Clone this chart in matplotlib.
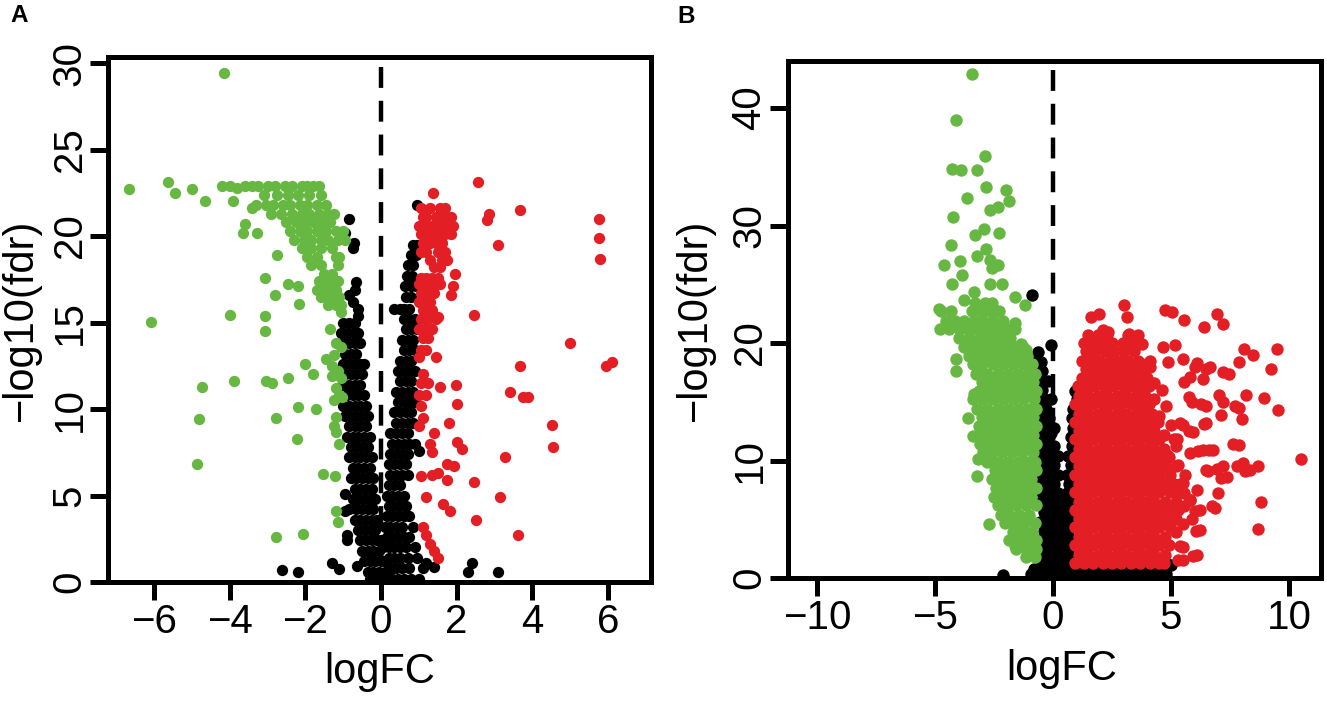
import matplotlib.pyplot as plt

plt.rcParams['font.family'] = ['Liberation Sans', 'DejaVu Sans']

GREEN = '#67B843'
RED = '#E41E25'
BLACK = '#000000'

# ---------------- panel A data (logFC, -log10 fdr) ----------------
green_a_pts = [
    (-6.67, 22.7), (-5.63, 23.1), (-5.44, 22.5), (-4.99, 22.7), (-4.65, 22.0), (-4.15, 29.4),
    (-4.2, 22.9), (-4.0, 22.9), (-3.8, 22.8), (-3.6, 22.9), (-3.4, 22.9), (-3.92, 22.0),
    (-3.42, 21.6), (-3.59, 20.7), (-3.64, 20.2), (-3.28, 20.2), (-2.75, 18.9), (-3.08, 17.6),
    (-2.47, 17.2), (-2.19, 17.1), (-2.80, 16.6), (-2.16, 16.1), (-4.0, 15.45), (-6.09, 15.06),
    (-3.06, 15.4), (-3.08, 14.5), (-2.02, 12.6), (-1.79, 12.0), (-2.47, 11.8), (-3.89, 11.6),
    (-3.03, 11.6), (-2.88, 11.5), (-4.73, 11.3), (-2.19, 10.1), (-1.72, 10.0), (-4.82, 9.43),
    (-2.77, 9.5), (-2.21, 8.26), (-4.88, 6.83), (-1.54, 6.23), (-1.23, 6.13), (-1.18, 4.1),
    (-1.15, 3.45), (-2.77, 2.6), (-2.07, 2.8),
    (-1.35, 14.6), (-1.2, 13.8), (-1.05, 13.6), (-1.25, 13.1), (-1.45, 12.9), (-1.3, 12.5),
    (-1.15, 12.2), (-1.3, 11.9), (-1.05, 11.8), (-1.2, 11.2), (-1.1, 10.8), (-1.25, 10.5),
    (-1.03, 10.7), (-1.19, 9.54), (-1.25, 9.0), (-1.19, 8.7), (-1.11, 8.0),
]
green_a_rows = [
    (22.9, [-3.25, -3.0, -2.8, -2.55, -2.35, -2.1, -1.95, -1.8, -1.65]),
    (22.4, [-3.1, -2.75, -2.45, -2.2, -1.9, -1.6]),
    (21.8, [-3.3, -3.05, -2.85, -2.6, -2.4, -2.15, -1.95, -1.7, -1.45]),
    (21.3, [-2.9, -2.65, -2.35, -2.1, -1.9, -1.65, -1.4, -1.25]),
    (20.8, [-2.5, -2.25, -2.0, -1.8, -1.55, -1.35]),
    (20.3, [-2.4, -2.15, -1.95, -1.7, -1.45, -1.2, -1.0]),
    (19.8, [-2.3, -2.05, -1.85, -1.6, -1.4, -1.15, -0.95]),
    (19.3, [-2.1, -1.85, -1.6, -1.3]),
    (18.8, [-1.95, -1.7, -1.2, -1.1]),
    (18.3, [-1.85, -1.6, -1.15]),
    (17.8, [-1.5, -1.3]),
    (17.4, [-1.65, -1.45, -1.3, -1.15]),
    (16.9, [-1.7, -1.5, -1.35, -1.2]),
    (16.5, [-1.6, -1.45, -1.3, -1.1]),
    (16.0, [-1.4, -1.2, -1.05]),
    (15.6, [-1.05]),
]

red_a_pts = [
    (2.56, 23.1), (1.38, 22.5), (2.86, 21.3), (2.80, 20.9), (3.67, 21.5), (3.08, 19.5),
    (5.77, 21.0), (5.77, 19.9), (5.8, 18.7), (1.96, 17.8), (1.9, 17.1), (1.85, 16.6),
    (2.47, 15.45), (1.51, 15.3), (5.01, 13.8), (5.94, 12.5), (6.11, 12.7), (3.67, 12.5),
    (3.42, 11.0), (3.76, 10.7), (3.89, 10.7), (1.98, 11.4), (1.57, 11.3), (2.02, 10.3),
    (4.51, 9.1), (4.56, 7.8), (3.28, 7.2), (2.02, 8.1), (2.13, 7.7), (1.79, 9.2),
    (1.74, 6.8), (1.94, 6.7), (2.47, 5.8), (1.74, 5.9), (1.35, 6.2), (1.06, 6.1),
    (1.51, 6.3), (1.4, 8.6), (1.3, 8.0), (1.35, 7.5), (3.14, 4.9), (1.2, 4.9),
    (1.63, 4.5), (1.83, 4.1), (2.52, 3.6), (3.62, 2.7), (1.12, 3.2), (1.2, 2.7),
    (1.29, 2.2), (1.4, 1.8), (1.51, 1.4),
]
red_a_rows = [
    (21.6, [1.05, 1.3, 1.55, 1.7]),
    (21.1, [1.1, 1.2, 1.45, 1.6, 1.75, 1.85]),
    (20.6, [1.0, 1.15, 1.35, 1.5, 1.65, 1.8, 1.9]),
    (20.1, [1.05, 1.25, 1.4, 1.55, 1.7, 1.85]),
    (19.6, [1.1, 1.3, 1.45, 1.6]),
    (19.1, [1.05, 1.2, 1.5, 1.7]),
    (18.6, [1.3, 1.6, 1.75]),
    (18.2, [1.4, 1.55]),
    (17.6, [1.05, 1.2, 1.35, 1.5]),
    (17.2, [1.0, 1.15, 1.3, 1.45, 1.55]),
    (16.7, [1.05, 1.25, 1.4]),
    (16.2, [1.0, 1.15, 1.3]),
    (15.7, [1.1, 1.2, 1.35]),
    (15.2, [1.05, 1.25, 1.45]),
    (14.6, [1.0, 1.15, 1.35]),
    (14.1, [1.1, 1.25]),
    (13.4, [1.05, 1.2]),
    (13.0, [1.0, 1.45]),
    (12.0, [1.1]),
    (11.5, [1.05, 1.25]),
    (10.8, [1.0, 1.2]),
    (10.2, [1.05]),
    (9.5, [1.1]),
    (9.0, [1.0]),
]

black_a_pts = [
    (-0.84, 21.0), (-0.95, 20.2), (-0.71, 19.6), (-0.75, 19.3), (-0.67, 17.35), (-0.7, 16.9),
    (-0.86, 16.6), (-0.62, 15.8), (-0.75, 16.2), (-0.6, 15.4), (0.95, 21.8),
    (1.18, 1.1), (1.4, 0.85), (2.41, 1.1), (2.3, 0.6), (3.08, 0.6), (-2.63, 0.68),
    (-2.19, 0.6), (-1.29, 1.1), (-1.12, 0.78), (-0.64, 0.93), (-0.95, 5.1), (-0.95, 4.1),
    (-0.9, 2.7), (1.0, 7.6),
]
black_a_rows = [
    (19.5, [0.85, 0.95]), (18.9, [0.78, 0.92]), (18.3, [0.7, 0.85]), (17.7, [0.68, 0.82]),
    (17.1, [0.64, 0.8, 0.92]), (16.5, [0.65, 0.78]),
    (15.8, [0.35, 0.5, 0.62, 0.75]),
    (15.0, [-1.0, -0.85, -0.7]),
    (15.2, [0.6, 0.75, 0.9]),
    (14.4, [-1.05, -0.9, -0.75, -0.6]),
    (14.6, [0.65, 0.8, 0.95]),
    (13.8, [-1.0, -0.85, -0.7, -0.55]),
    (14.0, [0.55, 0.7, 0.85]),
    (13.2, [-0.95, -0.8, -0.65]),
    (13.4, [0.6, 0.75, 0.9]),
    (12.6, [-1.0, -0.85, -0.7, -0.55, -0.45]),
    (12.8, [0.5, 0.65, 0.8]),
    (12.0, [-0.95, -0.8, -0.65, -0.5]),
    (12.2, [0.45, 0.6, 0.75, 0.9]),
    (11.4, [-1.0, -0.85, -0.7, -0.55]),
    (11.6, [0.5, 0.65, 0.8]),
    (10.8, [-0.9, -0.75, -0.6, -0.45]),
    (11.0, [0.4, 0.55, 0.7, 0.85]),
    (10.2, [-1.0, -0.85, -0.7, -0.55, -0.4]),
    (10.4, [0.45, 0.6, 0.75, 0.9]),
    (9.6, [-0.95, -0.8, -0.65, -0.5, -0.35]),
    (9.8, [0.35, 0.5, 0.65, 0.8]),
    (9.0, [-0.85, -0.7, -0.55, -0.4]),
    (9.2, [0.4, 0.55, 0.7, 0.85]),
    (8.4, [-0.9, -0.75, -0.6, -0.45, -0.3]),
    (8.6, [0.25, 0.4, 0.55, 0.7]),
    (7.8, [-0.8, -0.65, -0.5, -0.35]),
    (8.0, [0.3, 0.45, 0.6, 0.75, 0.9]),
    (7.2, [-0.85, -0.7, -0.55, -0.4, -0.25]),
    (7.4, [0.25, 0.4, 0.55, 0.7]),
    (6.6, [-0.75, -0.6, -0.45, -0.3]),
    (6.8, [0.2, 0.35, 0.5, 0.65]),
    (6.0, [-0.8, -0.65, -0.5, -0.35, -0.2]),
    (6.2, [0.25, 0.4, 0.55, 0.7]),
    (5.4, [-0.7, -0.55, -0.4, -0.25]),
    (5.6, [0.2, 0.35, 0.5]),
    (4.8, [-0.75, -0.6, -0.45, -0.3, -0.15]),
    (5.0, [0.15, 0.3, 0.45, 0.6]),
    (4.2, [-0.85, -0.65, -0.5, -0.35, -0.2]),
    (4.4, [0.2, 0.35, 0.5, 0.65]),
    (3.6, [-0.7, -0.55, -0.4, -0.25, -0.1]),
    (3.8, [0.15, 0.3, 0.45, 0.6, 0.75]),
    (3.0, [-0.6, -0.45, -0.3, -0.15]),
    (3.2, [0.1, 0.25, 0.4, 0.55, 0.85]),
    (2.4, [-0.9, -0.55, -0.4, -0.25, -0.1, 0.0]),
    (2.6, [0.15, 0.3, 0.45, 0.6, 0.75]),
    (1.8, [-0.5, -0.35, -0.2, -0.05]),
    (2.0, [0.05, 0.2, 0.35, 0.5, 0.65, 0.9]),
    (1.2, [-0.45, -0.3, -0.15, 0.0, 0.1]),
    (1.4, [0.2, 0.35, 0.5, 0.7, 0.95]),
    (0.6, [-0.35, -0.2, -0.05, 0.1, 0.2]),
    (0.8, [0.25, 0.4, 0.55, 0.75, 1.1]),
    (0.2, [-0.3, -0.15, 0.0, 0.15, 0.3, 0.45, 0.6, 0.8, 1.0]),
]

# ---------------- panel B data ----------------
green_b_pts = [
    (-3.42, 42.9), (-4.1, 39.0), (-2.89, 35.9), (-4.28, 34.8), (-3.89, 34.7), (-3.24, 34.7),
    (-2.85, 33.3), (-1.99, 33.0), (-1.86, 32.1), (-3.66, 32.3), (-2.67, 31.3), (-2.31, 31.6),
    (-4.23, 30.7), (-2.94, 29.7), (-3.3, 29.2), (-2.28, 29.4), (-4.32, 28.3), (-2.85, 28.0),
    (-3.24, 27.4), (-3.92, 27.0), (-4.61, 26.6), (-2.67, 27.1), (-2.58, 26.4), (-2.31, 26.6),
    (-3.84, 25.8), (-4.28, 25.0), (-2.67, 25.0), (-2.17, 25.0), (-3.35, 24.3), (-1.63, 23.9),
    (-1.2, 23.2), (-4.82, 22.9), (-3.75, 23.7), (-1.59, 21.7), (-4.1, 18.6), (-4.1, 17.6),
    (-3.03, 17.3), (-3.35, 15.7), (-2.71, 10.2), (-3.17, 10.1), (-3.24, 8.7), (-2.71, 4.6),
    (-1.59, 2.7), (-1.35, 19.9), (-1.15, 19.4), (-3.6, 13.6), (-3.4, 12.1),
]
green_b_rows = [
    (1.8, [-1.15, -0.75]),
    (2.5, [-1.55, -1.15, -0.72]),
    (3.2, [-1.85, -1.45, -1.05, -0.72]),
    (3.9, [-1.7, -1.3, -0.9]),
    (4.7, [-2.05, -1.65, -1.22, -0.75]),
    (5.4, [-2.2, -1.85, -1.45, -1.02]),
    (6.2, [-2.35, -1.95, -1.55, -1.15, -0.72]),
    (6.9, [-2.5, -2.15, -1.75, -1.35, -0.92]),
    (7.7, [-2.4, -2.0, -1.6, -1.2, -0.72]),
    (8.4, [-2.6, -2.2, -1.8, -1.38, -0.94]),
    (9.2, [-2.45, -2.05, -1.62, -1.2, -0.72]),
    (9.9, [-2.8, -2.35, -1.92, -1.5, -1.08, -0.75]),
    (10.7, [-2.95, -2.6, -2.15, -1.72, -1.3, -0.85]),
    (11.4, [-3.1, -2.75, -2.35, -1.92, -1.5, -1.05, -0.72]),
    (12.2, [-2.95, -2.55, -2.12, -1.7, -1.28, -0.85]),
    (12.9, [-3.15, -2.75, -2.32, -1.9, -1.48, -1.05, -0.72]),
    (13.7, [-3.0, -2.55, -2.12, -1.7, -1.25, -0.83]),
    (14.4, [-3.2, -2.78, -2.35, -1.9, -1.48, -1.05, -0.72]),
    (15.2, [-3.4, -2.95, -2.55, -2.12, -1.7, -1.25, -0.8]),
    (15.9, [-3.15, -2.75, -2.32, -1.9, -1.48, -1.05, -0.72]),
    (16.7, [-3.0, -2.55, -2.12, -1.7, -1.28, -0.85]),
    (17.4, [-3.25, -2.78, -2.35, -1.92, -1.48, -1.05, -0.75]),
    (18.2, [-3.4, -3.0, -2.55, -2.12, -1.7, -1.25, -0.9]),
    (18.9, [-3.55, -3.15, -2.72, -2.3, -1.88, -1.45, -1.1]),
    (19.7, [-3.75, -3.3, -2.9, -2.48, -2.05, -1.62, -1.25]),
    (20.4, [-4.0, -3.55, -3.1, -2.7, -2.25, -1.8]),
    (21.2, [-4.8, -4.4, -4.0, -3.6, -3.2, -2.8, -2.4, -2.0, -1.6]),
    (21.9, [-4.55, -4.15, -3.75, -3.35, -2.95, -2.55, -2.1]),
    (22.7, [-4.75, -4.3, -3.45, -3.05, -2.65, -2.3]),
    (23.4, [-3.3, -2.9, -2.6]),
]

red_b_pts = [
    (3.01, 23.2), (1.95, 22.5), (1.6, 22.2), (3.15, 22.2), (4.73, 22.8), (5.04, 22.6),
    (5.57, 22.0), (6.38, 21.4), (6.97, 22.5), (7.19, 21.6), (2.13, 21.1), (2.35, 20.9),
    (3.24, 20.8), (3.78, 19.9), (4.68, 19.7), (5.18, 19.8), (8.08, 19.5), (8.48, 19.0),
    (9.48, 19.5), (4.86, 18.4), (7.9, 18.4), (9.25, 17.8), (7.19, 17.5), (7.46, 17.4),
    (6.02, 18.0), (6.47, 17.8), (5.57, 16.7), (5.75, 15.4), (6.29, 14.8), (7.04, 15.6),
    (7.19, 15.0), (8.17, 15.6), (7.72, 14.6), (8.94, 15.3), (9.55, 14.3), (7.99, 13.5),
    (6.38, 13.1), (7.1, 13.9), (5.39, 13.2), (5.75, 12.5), (5.13, 11.8), (6.15, 10.8),
    (6.61, 10.9), (7.63, 11.4), (10.5, 10.1), (7.81, 9.5), (8.14, 9.1), (8.71, 9.5),
    (6.56, 9.1), (6.97, 9.3), (7.1, 8.5), (5.39, 8.0), (7.0, 7.2), (8.8, 6.5),
    (6.74, 6.1), (5.57, 6.1), (6.02, 5.7), (6.08, 4.0), (8.71, 4.2), (5.39, 2.7),
    (5.93, 1.9), (5.3, 1.5),
    (4.6, 16.0), (4.3, 15.2), (4.8, 14.6), (4.5, 13.8), (5.0, 13.0), (4.7, 12.2),
    (5.2, 11.2), (4.85, 10.5), (5.3, 9.6), (5.6, 8.8), (5.55, 7.2), (5.8, 6.6),
    (5.9, 5.0), (5.5, 4.6), (5.2, 3.9), (4.3, 16.6), (3.9, 16.9), (3.7, 18.3),
    (4.1, 18.0), (3.8, 17.4),
    (5.51, 18.6), (6.1, 18.3), (6.65, 18.0), (5.8, 17.1), (6.36, 16.9), (7.9, 14.5),
    (5.89, 15.0), (6.5, 14.6), (5.51, 13.0), (5.93, 12.4), (6.5, 13.2), (5.25, 11.8),
    (7.9, 11.3), (5.8, 10.6), (6.36, 10.9), (6.78, 10.9), (8.05, 9.8), (8.35, 9.2),
    (6.5, 9.2), (7.2, 9.5), (7.37, 8.6), (5.51, 8.1), (6.1, 7.5), (5.8, 6.6),
    (6.23, 5.8), (6.86, 6.0), (6.23, 4.1), (5.51, 2.6), (6.1, 2.0), (5.51, 1.5),
]
red_b_rows = [
    (1.3, [0.95, 1.3, 1.7, 2.1, 2.5, 2.9, 3.3, 3.7, 4.1, 4.5, 4.7]),
    (2.0, [1.1, 1.5, 1.9, 2.3, 2.7, 3.1, 3.5, 3.9, 4.3, 4.75]),
    (2.8, [0.95, 1.3, 1.7, 2.1, 2.5, 2.9, 3.3, 3.7, 4.1, 4.5, 4.9]),
    (3.5, [1.1, 1.5, 1.9, 2.3, 2.7, 3.1, 3.5, 3.9, 4.3, 4.75]),
    (4.3, [0.95, 1.3, 1.7, 2.1, 2.5, 2.9, 3.3, 3.7, 4.1, 4.5, 4.95]),
    (5.0, [1.1, 1.5, 1.9, 2.3, 2.7, 3.1, 3.5, 3.9, 4.3, 4.75, 5.2]),
    (5.8, [0.95, 1.3, 1.7, 2.1, 2.5, 2.9, 3.3, 3.7, 4.1, 4.5, 4.95, 5.3]),
    (6.5, [1.1, 1.5, 1.9, 2.3, 2.7, 3.1, 3.5, 3.9, 4.3, 4.75, 5.2]),
    (7.3, [0.95, 1.3, 1.7, 2.1, 2.5, 2.9, 3.3, 3.7, 4.1, 4.5, 4.95, 5.3]),
    (8.0, [1.1, 1.5, 1.9, 2.3, 2.7, 3.1, 3.5, 3.9, 4.3, 4.75, 5.15]),
    (8.8, [0.95, 1.3, 1.7, 2.1, 2.5, 2.9, 3.3, 3.7, 4.1, 4.5, 4.95]),
    (9.5, [1.1, 1.5, 1.9, 2.3, 2.7, 3.1, 3.5, 3.9, 4.3, 4.75, 5.2]),
    (10.3, [0.95, 1.3, 1.7, 2.1, 2.5, 2.9, 3.3, 3.7, 4.1, 4.5, 4.9]),
    (11.0, [1.1, 1.5, 1.9, 2.3, 2.7, 3.1, 3.5, 3.9, 4.3, 4.7]),
    (11.8, [0.95, 1.3, 1.7, 2.1, 2.5, 2.9, 3.3, 3.7, 4.1, 4.5]),
    (12.5, [1.1, 1.5, 1.9, 2.3, 2.7, 3.1, 3.5, 3.9, 4.3]),
    (13.3, [0.95, 1.3, 1.7, 2.1, 2.5, 2.9, 3.3, 3.7, 4.1, 4.45]),
    (14.0, [1.1, 1.5, 1.9, 2.3, 2.7, 3.1, 3.5, 3.9, 4.2]),
    (14.8, [0.95, 1.3, 1.7, 2.1, 2.5, 2.9, 3.3, 3.7, 4.05]),
    (15.5, [1.1, 1.5, 1.9, 2.3, 2.7, 3.1, 3.5, 3.9]),
    (16.3, [1.05, 1.35, 1.75, 2.15, 2.55, 2.95, 3.35, 3.75, 4.05]),
    (17.0, [1.25, 1.6, 2.0, 2.4, 2.8, 3.2, 3.6, 4.0]),
    (17.8, [1.4, 1.8, 2.2, 2.6, 3.0, 3.4, 3.8]),
    (18.5, [1.25, 1.6, 2.0, 2.4, 2.8, 3.2, 3.6, 4.1]),
    (19.3, [1.4, 1.8, 2.2, 2.6, 3.0, 3.45]),
    (20.0, [1.3, 1.65, 2.05, 2.5, 2.95, 3.4]),
    (20.7, [1.5, 1.9, 2.3, 3.2, 3.6]),
]

black_b_pts = [
    (-0.88, 24.1), (-0.65, 19.2), (-0.07, 19.8), (-0.55, 14.9), (-0.35, 13.8), (-0.07, 12.3),
    (0.95, 15.9), (1.0, 15.2), (0.85, 14.4), (-2.1, 0.27), (4.77, 1.3), (5.0, 1.1),
]
black_b_rows = [
    (0.3, [-0.95, -0.6, -0.25, 0.1, 0.45, 0.8, 1.2, 1.6, 2.0, 2.4, 2.8, 3.2, 3.6, 4.0, 4.4, 4.8]),
    (0.8, [-0.8, -0.45, -0.1, 0.25, 0.6, 1.0, 1.4, 1.8, 2.2, 2.6, 3.0, 3.4, 3.8, 4.2, 4.6]),
    (1.6, [-0.55, -0.2, 0.15, 0.5, 0.8]),
    (2.4, [-0.4, -0.05, 0.3, 0.65]),
    (3.2, [-0.55, -0.2, 0.15, 0.5, 0.8]),
    (4.0, [-0.4, -0.05, 0.3, 0.65]),
    (4.8, [-0.55, -0.2, 0.15, 0.5, 0.8]),
    (5.6, [-0.4, -0.05, 0.3, 0.65]),
    (6.4, [-0.55, -0.2, 0.15, 0.5, 0.8]),
    (7.2, [-0.45, -0.1, 0.2, 0.6]),
    (8.0, [-0.55, -0.25, 0.05, 0.7]),
    (8.8, [-0.45, -0.1, 0.2, 0.6]),
    (9.6, [-0.55, -0.25, 0.05, 0.75]),
    (10.4, [-0.45, -0.1, 0.2, 0.65]),
    (11.2, [-0.55, -0.25, 0.05, 0.8]),
    (12.0, [-0.45, -0.15, 0.75]),
    (12.8, [-0.55, -0.25, 0.05, 0.85]),
    (13.6, [-0.45, -0.15, 0.8]),
    (14.4, [-0.6, -0.3]),
    (15.2, [-0.7, -0.4, -0.1]),
    (16.0, [-0.75, -0.45]),
    (16.8, [-0.8, -0.5, -0.2]),
    (17.6, [-0.75, -0.45]),
    (18.4, [-0.8, -0.5]),
]


def collect(points, rows):
    xs = [p[0] for p in points]
    ys = [p[1] for p in points]
    for y, row in rows:
        xs += row
        ys += [y] * len(row)
    return xs, ys


def style_axes(ax, xticks, yticks, xlim, ylim):
    ax.set_xlim(*xlim)
    ax.set_ylim(*ylim)
    ax.set_xticks(xticks)
    ax.set_yticks(yticks)
    for sp in ax.spines.values():
        sp.set_linewidth(3.6)
    ax.tick_params(direction='out', length=13, width=3.6, labelsize=29)
    ax.tick_params(axis='x', pad=2)
    ax.tick_params(axis='y', pad=1, labelrotation=90)
    for lab in ax.get_yticklabels():
        lab.set_va('center')


def draw_panel(ax, black, red, green, ytop, size):
    ax.plot([0, 0], [ytop, 0], color=BLACK, lw=3.2, linestyle=(0, (4.7, 2.9)), zorder=1)
    for (xs, ys), col in ((black, BLACK), (red, RED), (green, GREEN)):
        ax.scatter(xs, ys, s=size, c=col, linewidths=0, zorder=2)


fig = plt.figure(figsize=(13.27, 7.03), dpi=100)

ax_a = fig.add_axes([0.0814, 0.1721, 0.4092, 0.7468])
draw_panel(ax_a, collect(black_a_pts, black_a_rows), collect(red_a_pts, red_a_rows),
           collect(green_a_pts, green_a_rows), 29.8, 66)
style_axes(ax_a, [-6, -4, -2, 0, 2, 4, 6], [0, 5, 10, 15, 20, 25, 30], (-7.22, 7.14), (0, 30.35))

ax_b = fig.add_axes([0.5938, 0.1778, 0.4017, 0.7354])
draw_panel(ax_b, collect(black_b_pts, black_b_rows), collect(red_b_pts, red_b_rows),
           collect(green_b_pts, green_b_rows), 43.2, 80)
style_axes(ax_b, [-10, -5, 0, 5, 10], [0, 10, 20, 30, 40], (-11.23, 11.36), (0, 44.0))

# axis titles
fig.text(0.286, 0.044, 'logFC', fontsize=30, ha='center', va='center')
fig.text(0.0158, 0.545, '\u2212log10(fdr)', fontsize=30, rotation=90, ha='center', va='center')
fig.text(0.800, 0.048, 'logFC', fontsize=30, ha='center', va='center')
fig.text(0.5237, 0.545, '\u2212log10(fdr)', fontsize=30, rotation=90, ha='center', va='center')

fig.text(0.0147, 0.978, 'A', fontsize=17.5, fontweight='bold', ha='center', va='center')
fig.text(0.517, 0.976, 'B', fontsize=17.5, fontweight='bold', ha='center', va='center')

fig.savefig('out.png', dpi=100)
